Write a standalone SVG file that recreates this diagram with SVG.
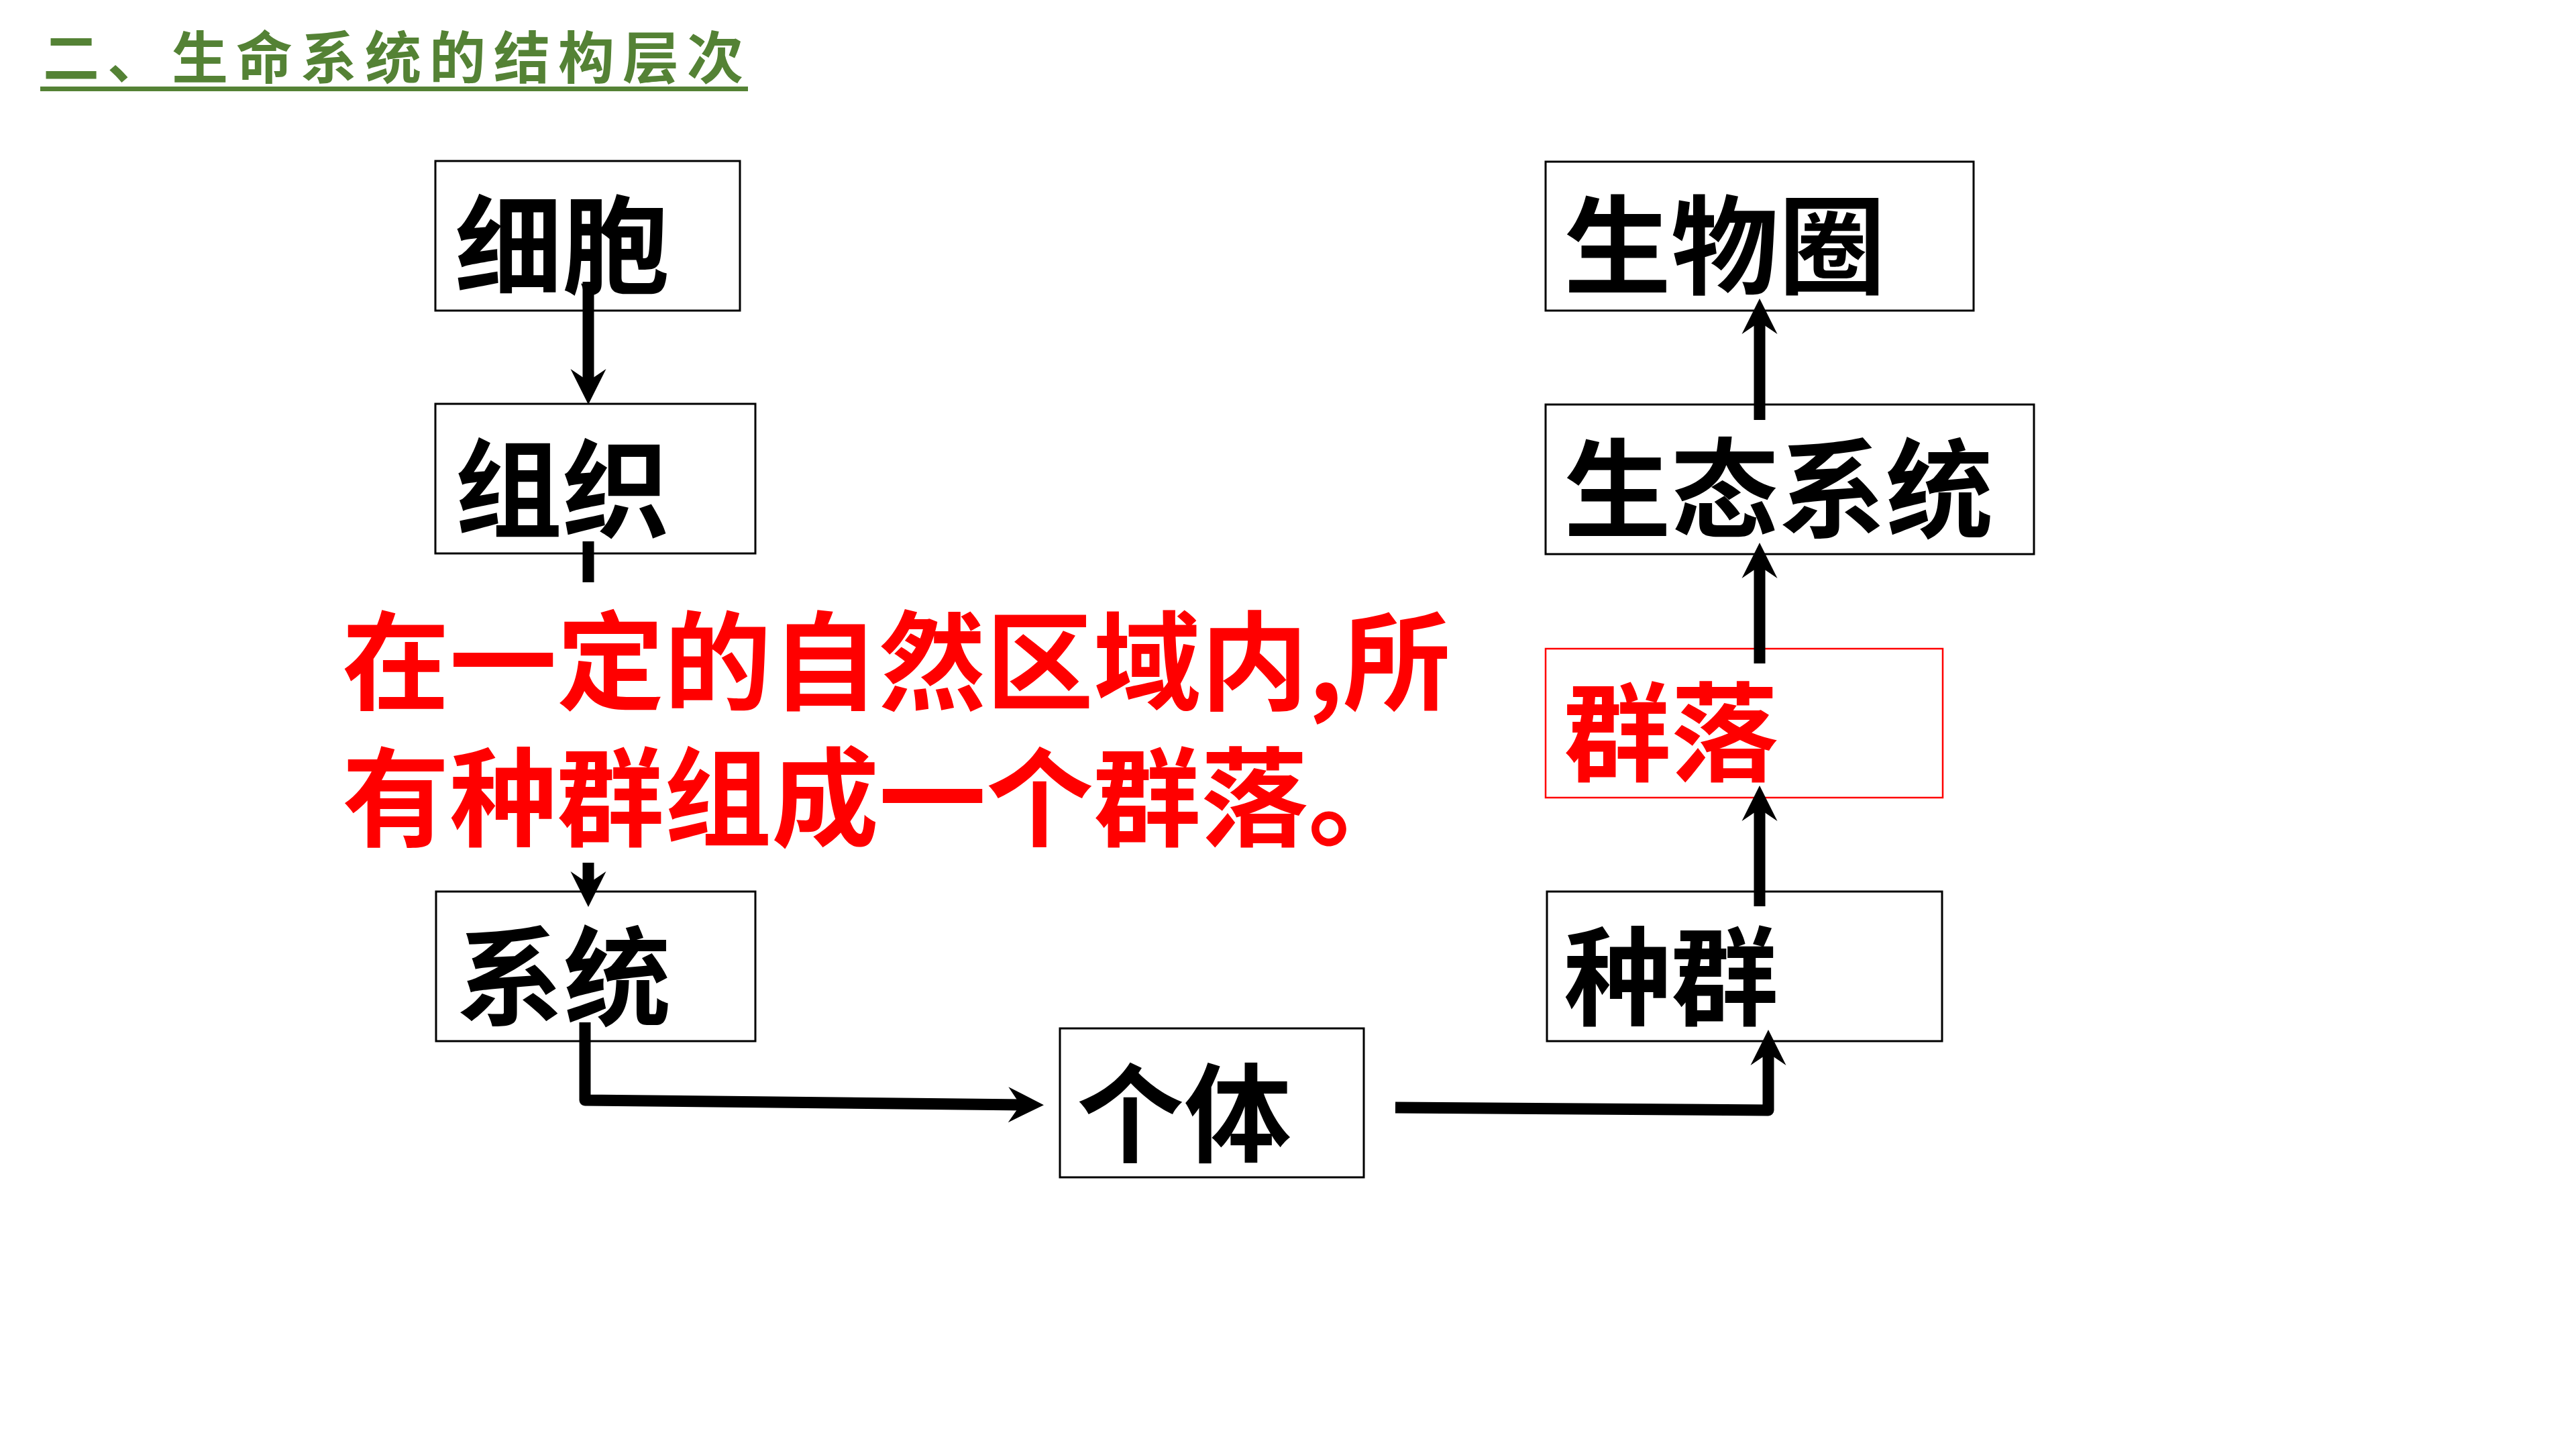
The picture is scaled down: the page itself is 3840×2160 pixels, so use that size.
<svg xmlns="http://www.w3.org/2000/svg" width="3840" height="2160" viewBox="0 0 3840 2160">
  <defs>
    <style>
      .box { fill: #ffffff; stroke: #000000; stroke-width: 3; }
      .box-red { fill: #ffffff; stroke: #ff0000; stroke-width: 2.5; }
      .lbl { font-family: "Noto Sans CJK SC", "Noto Sans CJK TC", sans-serif; font-weight: 700; font-size: 160px; fill: #000000; }
      .lbl-red { fill: #ff0000; }
      .conn { fill: none; stroke: #000000; stroke-width: 17; stroke-linejoin: round; }
      .title { font-family: "Noto Sans CJK SC", sans-serif; font-weight: 700; font-size: 84px; fill: #548235; letter-spacing: 12px; }
      .note { font-family: "Noto Sans CJK SC", sans-serif; font-weight: 700; font-size: 160px; fill: #ff0000; }
    </style>
    <marker id="arrow" markerUnits="userSpaceOnUse" viewBox="-30 -30 60 60" markerWidth="60" markerHeight="60" refX="0" refY="0" orient="auto" overflow="visible">
      <path d="M25,0 L-28,-26.5 L-10,0 L-28,26.5 Z" fill="#000000"/>
    </marker>
  </defs>

  <rect x="0" y="0" width="3840" height="2160" fill="#ffffff"/>

  <g id="title">
    <text class="title" x="64" y="117">二、生命系统的结构层次</text>
    <line x1="60" y1="132.5" x2="1115" y2="132.5" stroke="#548235" stroke-width="7"/>
  </g>

  <g id="node-xibao">
    <rect class="box" x="649" y="240" width="454" height="223"/>
    <text class="lbl" x="678" y="426">细胞</text>
  </g>
  <g id="node-zuzhi">
    <rect class="box" x="649" y="602" width="477" height="223"/>
    <text class="lbl" x="678" y="789">组织</text>
  </g>
  <g id="node-xitong">
    <rect class="box" x="650" y="1329" width="476" height="223"/>
    <text class="lbl" x="680" y="1516">系统</text>
  </g>
  <g id="node-geti">
    <rect class="box" x="1580" y="1533" width="453" height="222"/>
    <text class="lbl" x="1605" y="1720">个体</text>
  </g>
  <g id="node-zhongqun">
    <rect class="box" x="2306" y="1329" width="589" height="223"/>
    <text class="lbl" x="2331" y="1516">种群</text>
  </g>
  <g id="node-qunluo">
    <rect class="box-red" x="2304" y="967" width="592" height="222"/>
    <text class="lbl lbl-red" x="2331" y="1152">群落</text>
  </g>
  <g id="node-shengtai">
    <rect class="box" x="2304" y="603" width="728" height="223"/>
    <text class="lbl" x="2331" y="789">生态系统</text>
  </g>
  <g id="node-shengwuquan">
    <rect class="box" x="2304" y="241" width="638" height="222"/>
    <text class="lbl" x="2331" y="426">生物圈</text>
  </g>

  <g id="connectors">
    <path class="conn" d="M877,420 V578" marker-end="url(#arrow)"/>
    <path class="conn" d="M877,807 V1327" marker-end="url(#arrow)"/>
    <path class="conn" d="M872,1524 V1640 L1531,1647" marker-end="url(#arrow)"/>
    <path class="conn" d="M2080,1651 L2636,1655 V1560" marker-end="url(#arrow)"/>
    <path class="conn" d="M2623,1351 V1196" marker-end="url(#arrow)"/>
    <path class="conn" d="M2623,989 V834" marker-end="url(#arrow)"/>
    <path class="conn" d="M2623,626 V470" marker-end="url(#arrow)"/>
  </g>

  <g id="note">
    <rect x="500" y="868" width="1680" height="418" fill="#ffffff"/>
    <text class="note" x="510" y="1046">在一定的自然区域内,所</text>
    <text class="note" x="510" y="1249">有种群组成一个群落。</text>
  </g>
</svg>
